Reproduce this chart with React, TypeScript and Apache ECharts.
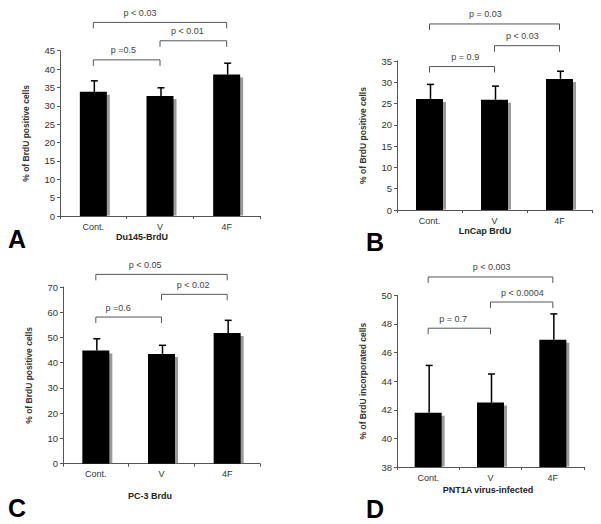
import React, { useEffect, useRef } from "react";
import * as echarts from "echarts";

const categories = ["Cont.", "V", "4F"];

// Panel A: Du145-BrdU
const meanA = [33.8, 32.7, 38.5];
const errTopA = [36.8, 34.9, 41.6];
// Panel B: LnCap BrdU
const meanB = [26.1, 25.9, 30.8];
const errTopB = [29.5, 29.1, 32.6];
// Panel C: PC-3 Brdu
const meanC = [44.8, 43.5, 51.8];
const errTopC = [49.5, 46.9, 56.8];
// Panel D: PNT1A virus-infected
const meanD = [41.8, 42.5, 46.9];
const errTopD = [45.1, 44.5, 48.7];

// brackets: [fromCat, toCat, yValue, textCatPos]
const bracketsA = [[0, 1, 42.5, 0.45], [1, 2, 47.7, 1.41], [0, 2, 52.7, 0.7]];
const bracketLabelsA = ["p =0.5", "p < 0.01", "p < 0.03"];
const bracketsB = [[0, 1, 33.7, 0.55], [1, 2, 38.6, 1.43], [0, 2, 43.7, 0.86]];
const bracketLabelsB = ["p = 0.9", "p < 0.03", "p = 0.03"];
const bracketsC = [[0, 1, 58.1, 0.34], [1, 2, 67.1, 1.48], [0, 2, 75.0, 0.75]];
const bracketLabelsC = ["p =0.6", "p < 0.02", "p < 0.05"];
const bracketsD = [[0, 1, 47.7, 0.4], [1, 2, 49.53, 1.51], [0, 2, 51.28, 1.02]];
const bracketLabelsD = ["p = 0.7", "p < 0.0004", "p < 0.003"];

const panels = [
  { mean: meanA, err: errTopA, br: bracketsA, brl: bracketLabelsA, min: 0, max: 45, interval: 5,
    grid: { left: 60, top: 50.7, width: 200, height: 165.3 }, yName: "% of BrdU positive cells", xName: "Du145-BrdU",
    xNamePos: { left: 142, top: 232 }, letter: "A", letterPos: { left: 8, top: 226 } },
  { mean: meanB, err: errTopB, br: bracketsB, brl: bracketLabelsB, min: 0, max: 35, interval: 5,
    grid: { left: 397, top: 61, width: 195, height: 149 }, yName: "% of BrdU positive cells", xName: "LnCap BrdU",
    xNamePos: { left: 485, top: 226 }, letter: "B", letterPos: { left: 366, top: 229 } },
  { mean: meanC, err: errTopC, br: bracketsC, brl: bracketLabelsC, min: 0, max: 70, interval: 10,
    grid: { left: 63, top: 287, width: 197, height: 176.7 }, yName: "% of BrdU positive cells", xName: "PC-3 Brdu",
    xNamePos: { left: 150, top: 491 }, letter: "C", letterPos: { left: 8, top: 495 } },
  { mean: meanD, err: errTopD, br: bracketsD, brl: bracketLabelsD, min: 38, max: 50, interval: 2,
    grid: { left: 397, top: 295.3, width: 187, height: 171.7 }, yName: "% of BrdU incorporated cells", xName: "PNT1A virus-infected",
    xNamePos: { left: 488, top: 485 }, letter: "D", letterPos: { left: 366, top: 496 } },
];

const FONT = "Liberation Sans, Arial, sans-serif";
const BAR_W = 27;

export default function App() {
  const ref = useRef<HTMLDivElement>(null);
  useEffect(() => {
    if (!ref.current) return;
    const chart = echarts.init(ref.current, undefined, { renderer: "svg" });
    const grid: any[] = [];
    const xAxis: any[] = [];
    const yAxis: any[] = [];
    const series: any[] = [];
    const title: any[] = [];
    panels.forEach((p, i) => {
      grid.push({ ...p.grid });
      xAxis.push({
        type: "category", gridIndex: i, data: categories, boundaryGap: true,
        axisLine: { lineStyle: { color: "#555", width: 1 } },
        axisTick: { show: true, length: 3, lineStyle: { color: "#555" } },
        axisLabel: { color: "#333", fontSize: 9, fontFamily: FONT, margin: 6 },
      });
      yAxis.push({
        type: "value", gridIndex: i, min: p.min, max: p.max, interval: p.interval,
        name: p.yName, nameLocation: "middle", nameGap: 30, nameRotate: 90,
        nameTextStyle: { color: "#333", fontSize: 8.5, fontWeight: "bold", fontFamily: FONT },
        splitLine: { show: false },
        axisLine: { show: true, lineStyle: { color: "#555", width: 1 } },
        axisTick: { show: true, length: 3, lineStyle: { color: "#555" } },
        axisLabel: { color: "#333", fontSize: 9.5, fontFamily: FONT, margin: 5 },
      });
      const minV = p.min;
      // shadow behind bars
      series.push({
        type: "custom", xAxisIndex: i, yAxisIndex: i, data: p.mean.map((m, k) => [k, m]), encode: { x: 0, y: 1 }, z: 1,
        renderItem: (params: any, api: any) => {
          const top = api.coord([api.value(0), api.value(1)]);
          const base = api.coord([api.value(0), minV]);
          return {
            type: "rect",
            shape: { x: top[0] - BAR_W / 2 + 3, y: top[1] + 3, width: BAR_W, height: base[1] - top[1] - 3.5 },
            style: { fill: "#9a9a9a" },
          };
        },
      });
      series.push({
        type: "bar", xAxisIndex: i, yAxisIndex: i, data: p.mean, barWidth: BAR_W, z: 2,
        itemStyle: { color: "#000" },
      });
      const errData = p.mean.map((m, k) => [k, m, p.err[k]]);
      series.push({
        type: "custom", xAxisIndex: i, yAxisIndex: i, data: errData, encode: { x: 0, y: [1, 2] }, z: 3,
        renderItem: (params: any, api: any) => {
          const a = api.coord([api.value(0), api.value(1)]);
          const b = api.coord([api.value(0), api.value(2)]);
          const st = { stroke: "#000", lineWidth: 1.5 };
          return {
            type: "group",
            children: [
              { type: "line", shape: { x1: a[0] + 1, y1: a[1], x2: b[0] + 1, y2: b[1] }, style: st },
              { type: "line", shape: { x1: b[0] - 2.5, y1: b[1], x2: b[0] + 4.5, y2: b[1] }, style: st },
            ],
          };
        },
      });
      const labels = p.brl;
      series.push({
        type: "custom", xAxisIndex: i, yAxisIndex: i, data: p.br, encode: { x: [0, 1], y: 2 }, clip: false, z: 4,
        renderItem: (params: any, api: any) => {
          const l = api.coord([api.value(0), api.value(2)]);
          const r = api.coord([api.value(1), api.value(2)]);
          const tp = api.value(3);
          const f = Math.floor(tp);
          const c0 = api.coord([f, api.value(2)]);
          const c1 = api.coord([Math.min(f + 1, 2), api.value(2)]);
          const tx = c0[0] + (c1[0] - c0[0]) * (tp - f);
          const st = { stroke: "#555", lineWidth: 1, fill: "none" };
          return {
            type: "group",
            children: [
              { type: "polyline", shape: { points: [[l[0], l[1] + 6], [l[0], l[1]], [r[0], r[1]], [r[0], r[1] + 6]] }, style: st },
              { type: "text", style: { x: tx, y: l[1] - 5, text: labels[params.dataIndex], fill: "#444", fontSize: 9, fontFamily: FONT, align: "center", verticalAlign: "bottom" } },
            ],
          };
        },
      });
      title.push({
        text: p.xName, left: p.xNamePos.left, top: p.xNamePos.top, textAlign: "center", padding: 0,
        textStyle: { fontSize: 9, fontWeight: "bold", color: "#222", fontFamily: FONT },
      });
      title.push({
        text: p.letter, left: p.letterPos.left, top: p.letterPos.top, padding: 0,
        textStyle: { fontSize: 25, fontWeight: "bold", color: "#000", fontFamily: FONT },
      });
    });
    chart.setOption({ animation: false, backgroundColor: "#fff", grid, xAxis, yAxis, series, title });
    return () => chart.dispose();
  }, []);
  return <div ref={ref} style={{ position: "fixed", left: 0, top: 0, width: 601, height: 524 }} />;
}
